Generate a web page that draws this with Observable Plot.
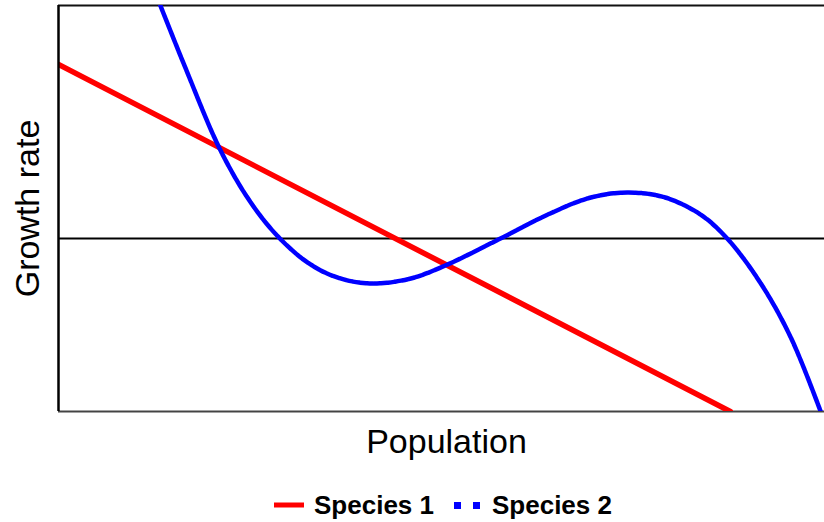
<!DOCTYPE html>
<html>
<head>
<meta charset="utf-8">
<script src="https://cdn.jsdelivr.net/npm/d3@7"></script>
<script src="https://cdn.jsdelivr.net/npm/@observablehq/plot@0.6"></script>
<style>
  body { margin: 0; background: #fff; font-family: "Liberation Sans", Arial, sans-serif; }
  #legend { display: flex; justify-content: center; align-items: center; padding-left: 62px; height: 60px; font-weight: bold; font-size: 26px; color: #000; }
  .item { display: flex; align-items: center; margin: 0 10px; }
  .item svg { margin-right: 10px; }
</style>
</head>
<body>
<div id="chart"></div>
<div id="legend"></div>
<script>
// Species 1: straight line (population, growth rate)
const s1Pop = [0, 87.7];
const s1Rate = [1.006, -1.0];
// Species 2: curve
const s2Pop = [13.3, 16.6, 21.1, 25.1, 28.9, 32.9, 36.8, 41.0, 46.0, 50.5, 57.7, 64.2, 69.5, 74.4, 79.2, 83.8, 87.3, 91.6, 95.6, 99.5];
const s2Rate = [1.347, 0.983, 0.514, 0.208, 0, -0.150, -0.231, -0.260, -0.231, -0.156, 0, 0.145, 0.237, 0.266, 0.237, 0.139, 0, -0.254, -0.572, -1.0];
const seriesNames = ["Species 1", "Species 2"];
const xLabel = "Population";
const yLabel = "Growth rate";
const xDomain = [0, 100];
const yDomain = [-1, 1.347];

const s1 = s1Pop.map((p, i) => ({pop: p, rate: s1Rate[i]}));
const s2 = s2Pop.map((p, i) => ({pop: p, rate: s2Rate[i]}));

const chart = Plot.plot({
  width: 824,
  height: 475,
  marginLeft: 58,
  marginRight: 0,
  marginTop: 5,
  marginBottom: 64,
  x: {domain: xDomain, axis: null},
  y: {domain: yDomain, axis: null},
  style: {fontFamily: "Liberation Sans, Arial, sans-serif", background: "#fff"},
  marks: [
    Plot.ruleY([yDomain[0]], {stroke: "#444", strokeWidth: 2}),
    Plot.ruleY([yDomain[1]], {stroke: "#111", strokeWidth: 2}),
    Plot.ruleY([0], {stroke: "#000", strokeWidth: 2.2}),
    Plot.line(s1, {x: "pop", y: "rate", stroke: "#ff0000", strokeWidth: 5.5, clip: true}),
    Plot.line(s2, {x: "pop", y: "rate", stroke: "#0000ff", strokeWidth: 4.5, curve: "catmull-rom", clip: true, strokeDasharray: "6,1"}),
    Plot.ruleX([xDomain[0]], {stroke: "#000", strokeWidth: 2.5}),
    Plot.text([xLabel], {frameAnchor: "bottom", dx: 5, dy: 41, fontSize: 34, fill: "#000"}),
    Plot.text([yLabel], {frameAnchor: "left", dx: -30, rotate: -90, textAnchor: "middle", fontSize: 34, fill: "#000"})
  ]
});
document.getElementById("chart").appendChild(chart);

const legend = document.getElementById("legend");
legend.innerHTML = `
  <div class="item"><svg width="30" height="8"><line x1="0" y1="4" x2="30" y2="4" stroke="#ff0000" stroke-width="5"/></svg>${seriesNames[0]}</div>
  <div class="item"><svg width="28" height="8"><rect x="0" y="1" width="7" height="7" fill="#0000ff"/><rect x="19" y="1" width="7" height="7" fill="#0000ff"/></svg>${seriesNames[1]}</div>`;
</script>
</body>
</html>
